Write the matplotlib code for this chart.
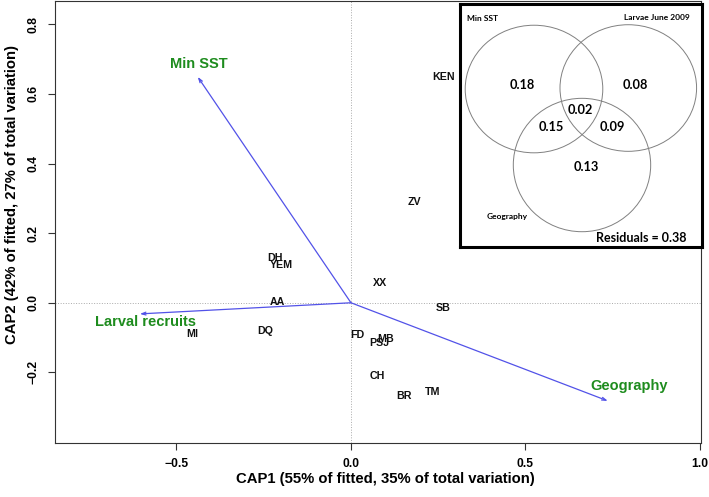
import matplotlib.pyplot as plt
from matplotlib.patches import Ellipse

plt.rcParams["font.family"] = ["Liberation Sans", "DejaVu Sans"]
plt.rcParams["font.weight"] = "bold"

# site scores (CAP1, CAP2)
SITES = ["DH", "YEM", "XX", "AA", "SB", "MI", "DQ", "FD", "MB", "PSJ",
         "CH", "BR", "TM", "ZV", "KEN"]
CAP1 = [-0.218, -0.200, 0.083, -0.210, 0.265, -0.454, -0.246, 0.019, 0.100, 0.081,
        0.075, 0.152, 0.234, 0.181, 0.265]
CAP2 = [0.128, 0.108, 0.056, 0.003, -0.014, -0.089, -0.080, -0.093, -0.103, -0.115,
        -0.211, -0.267, -0.256, 0.290, 0.648]

# explanatory vectors
VECTORS = ["Min SST", "Larval recruits", "Geography"]
VEC_X = [-0.439, -0.605, 0.736]
VEC_Y = [0.649, -0.032, -0.282]
VEC_LABEL_X = [-0.436, -0.588, 0.797]
VEC_LABEL_Y = [0.686, -0.056, -0.239]

XTICKS = [-0.5, 0.0, 0.5, 1.0]
YTICKS = [-0.2, 0.0, 0.2, 0.4, 0.6, 0.8]

# variance partitioning (Venn inset)
VENN_SETS = ["Min SST", "Larvae June 2009", "Geography"]
VENN_REGIONS = ["Min SST only", "Larvae only", "all three", "SST+Geo", "Larvae+Geo", "Geography only"]
VENN_VALUES = [0.18, 0.08, 0.02, 0.15, 0.09, 0.13]
RESIDUALS = 0.38

ARROW_COLOR = "#5252e8"
LABEL_GREEN = "#1e8c1e"

fig = plt.figure(figsize=(7.09, 4.97), dpi=100)
ax = fig.add_axes([0.0776, 0.1093, 0.9111, 0.8887])

ax.axhline(0, color="#aaaaaa", linestyle=":", linewidth=0.7, zorder=0)
ax.axvline(0, color="#aaaaaa", linestyle=":", linewidth=0.7, zorder=0)

for name, x, y in zip(SITES, CAP1, CAP2):
    ax.text(x, y, name, fontsize=7.7, fontweight="bold", ha="center", va="center", color="#111111")

for name, vx, vy, lx, ly in zip(VECTORS, VEC_X, VEC_Y, VEC_LABEL_X, VEC_LABEL_Y):
    ax.annotate("", xy=(vx, vy), xytext=(0, 0),
                arrowprops=dict(arrowstyle="->,head_length=0.3,head_width=0.1",
                                color=ARROW_COLOR, lw=0.9, shrinkA=0, shrinkB=0))
    ax.text(lx, ly, name, fontsize=10.5, fontweight="bold", color=LABEL_GREEN,
            ha="center", va="center")

ax.set_xlim(-0.848, 1.003)
ax.set_ylim(-0.402, 0.867)
ax.set_xticks(XTICKS)
ax.set_xticklabels([f"{t:.1f}".replace("-", "\u2212") for t in XTICKS])
ax.set_yticks(YTICKS)
ax.set_yticklabels([f"{t:.1f}".replace("-", "\u2212") for t in YTICKS],
                   rotation=90, va="center")
ax.tick_params(axis="both", direction="out", length=5, width=0.8, labelsize=8.7, color="#333333")
ax.tick_params(axis="x", pad=6)
ax.tick_params(axis="y", pad=6)
for lab in ax.get_xticklabels() + ax.get_yticklabels():
    lab.set_fontweight("bold")
for sp in ax.spines.values():
    sp.set_linewidth(0.8)
    sp.set_color("#333333")

ax.set_xlabel("CAP1 (55% of fitted, 35% of total variation)", fontsize=10.7, fontweight="bold")
ax.xaxis.set_label_coords(0.511, -0.083)
ax.xaxis.label.set_va("center")
ax.set_ylabel("CAP2 (42% of fitted, 27% of total variation)", fontsize=10.7, fontweight="bold")
ax.yaxis.set_label_coords(-0.067, 0.563)
ax.yaxis.label.set_va("center")
ax.yaxis.label.set_rotation_mode("default")

# Venn inset, local coordinates in pixels of the inset box
ins = fig.add_axes([0.6488, 0.503, 0.3413, 0.4889])
ins.set_xlim(0, 242)
ins.set_ylim(243, 0)
ins.set_xticks([])
ins.set_yticks([])
for sp in ins.spines.values():
    sp.set_linewidth(2.2)
    sp.set_color("black")

venn_font = ["Lato", "DejaVu Sans"]
circles = [((74, 85), 137.6, 127.6), ((168.3, 84), 136.6, 126.6), ((122, 161), 137.4, 133.4)]
for (c, w, h) in circles:
    ins.add_patch(Ellipse(c, w, h, fill=False, edgecolor="#808080", linewidth=0.7))

set_label_pos = [(22.7, 14.3), (197, 13.3), (46.7, 212.7)]
for name, (x, y) in zip(VENN_SETS, set_label_pos):
    ins.text(x, y, name, fontsize=6, fontweight="bold", family=venn_font, ha="center", va="center")

region_pos = [(62.7, 81), (175, 81), (120, 106), (91, 123.3), (152.7, 123.3), (126, 162.7)]
for val, (x, y) in zip(VENN_VALUES, region_pos):
    ins.text(x, y, f"{val:.2f}", fontsize=9.2, fontweight="bold", family=venn_font,
             ha="center", va="center")

ins.text(181.7, 234.3, f"Residuals = {RESIDUALS:.2f}", fontsize=9, fontweight="bold",
         family=venn_font, ha="center", va="center")

fig.savefig("out.png", dpi=100)
